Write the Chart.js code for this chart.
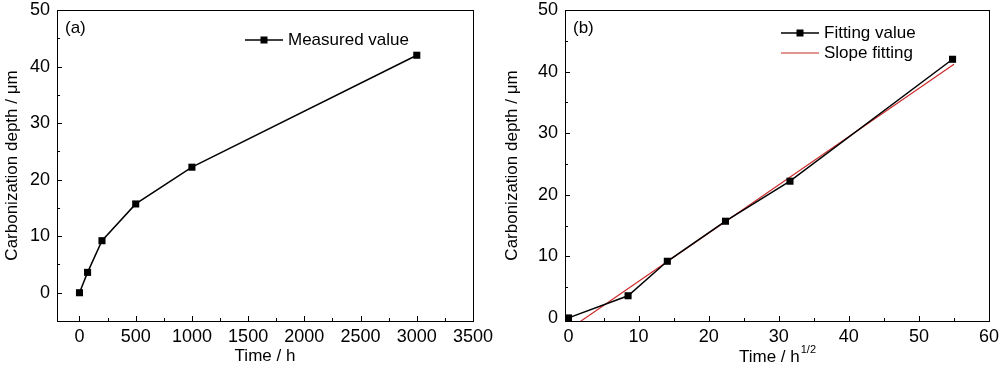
<!DOCTYPE html>
<html>
<head>
<meta charset="utf-8">
<script src="https://cdn.jsdelivr.net/npm/chart.js@4/dist/chart.umd.min.js"></script>
<style>
  body { margin: 0; background: #fff; width: 1000px; height: 367px; overflow: hidden; position: relative; }
  .box { position: absolute; top: 0; width: 500px; height: 367px; }
</style>
</head>
<body>
<div class="box" style="left:0"><canvas id="chartA"></canvas></div>
<div class="box" style="left:500px"><canvas id="chartB"></canvas></div>
<script>
// data
const timeH = [0, 72, 200, 500, 1000, 3000];
const depth = [0, 3.6, 9.2, 15.7, 22.2, 42.0];
const sqrtTime = [0, 8.5, 14.1, 22.4, 31.6, 54.8];
const slopeX = [0, 55];
const slopeY = [-1.9, 41.2];

// tick labels
const yTickLabels = [0, 10, 20, 30, 40, 50];
const xTickLabelsA = [0, 500, 1000, 1500, 2000, 2500, 3000, 3500];
const xTickLabelsB = [0, 10, 20, 30, 40, 50, 60];

const FONT = '"Liberation Sans", Arial, sans-serif';
Chart.defaults.font.family = FONT;
Chart.defaults.color = '#000';

const pts = (xs, ys) => xs.map((x, i) => ({ x: x, y: ys[i] }));

// major ticks plus one minor tick between each pair
function withMinor(major) {
  const out = [];
  major.forEach((v, i) => {
    out.push(v);
    if (i < major.length - 1) out.push((v + major[i + 1]) / 2);
  });
  return out;
}

// box round the plot, inward ticks, panel tag, legend
const framePlugin = {
  id: 'frame',
  afterDraw(chart, args, opts) {
    const ctx = chart.ctx;
    const a = chart.chartArea;
    ctx.save();
    ctx.strokeStyle = '#000';
    ctx.lineWidth = 1;
    ctx.strokeRect(Math.round(a.left) + 0.5, Math.round(a.top) + 0.5,
      Math.round(a.right - a.left), Math.round(a.bottom - a.top));

    const xs = chart.scales.x, ys = chart.scales.y;
    ctx.beginPath();
    xs.ticks.forEach(t => {
      const px = Math.round(xs.getPixelForValue(t.value)) + 0.5;
      const len = opts.xMajor.includes(t.value) ? 5 : 3;
      ctx.moveTo(px, a.bottom);
      ctx.lineTo(px, a.bottom - len);
    });
    ys.ticks.forEach(t => {
      const py = Math.round(ys.getPixelForValue(t.value)) + 0.5;
      const len = yTickLabels.includes(t.value) ? 5 : 3;
      ctx.moveTo(a.left, py);
      ctx.lineTo(a.left + len, py);
    });
    ctx.stroke();

    ctx.fillStyle = '#000';
    ctx.font = '17px ' + FONT;
    ctx.textBaseline = 'middle';
    ctx.textAlign = 'left';
    ctx.fillText(opts.tag, a.left + 8, 28);

    // legend
    opts.legend.forEach(item => {
      const ds = chart.data.datasets[item.index];
      ctx.strokeStyle = ds.borderColor;
      ctx.lineWidth = ds.borderWidth;
      ctx.beginPath();
      ctx.moveTo(item.x, item.y);
      ctx.lineTo(item.x + 38, item.y);
      ctx.stroke();
      if (ds.pointRadius > 0) {
        ctx.fillStyle = ds.pointBackgroundColor;
        ctx.fillRect(item.x + 19 - 3.5, item.y - 3.5, 7, 7);
      }
      ctx.fillStyle = '#000';
      ctx.fillText(ds.label, item.x + 43, item.y);
    });

    // x title with superscript
    if (opts.xTitle) {
      ctx.font = '17px ' + FONT;
      const main = opts.xTitle[0], sup = opts.xTitle[1];
      const w1 = ctx.measureText(main).width;
      ctx.font = '11px ' + FONT;
      const w2 = ctx.measureText(sup).width;
      const x0 = (a.left + a.right) / 2 - (w1 + w2) / 2;
      ctx.font = '17px ' + FONT;
      ctx.fillText(main, x0, 357);
      ctx.font = '11px ' + FONT;
      ctx.fillText(sup, x0 + w1 + 1, 350);
    }
    ctx.restore();
  }
};

function makeOptions(cfg) {
  const xTicks = withMinor(cfg.xMajor);
  const yTicks = withMinor(yTickLabels);
  return {
    responsive: true,
    maintainAspectRatio: false,
    animation: false,
    layout: { padding: { left: 0, right: cfg.padRight, top: 10, bottom: 0 } },
    plugins: {
      legend: { display: false },
      tooltip: { enabled: false },
      frame: { tag: cfg.tag, legend: cfg.legend, xMajor: cfg.xMajor, xTitle: cfg.xTitleSup }
    },
    scales: {
      x: {
        type: 'linear',
        min: cfg.xMin, max: cfg.xMax,
        grid: { display: false, drawTicks: false },
        border: { display: false },
        afterBuildTicks(s) { s.ticks = xTicks.map(v => ({ value: v })); },
        ticks: {
          autoSkip: false,
          maxRotation: 0,
          padding: 5,
          font: { size: 18 },
          callback: v => cfg.xMajor.includes(v) ? String(v) : ''
        },
        title: {
          display: !!cfg.xTitle,
          text: cfg.xTitle || '',
          font: { size: 17 },
          padding: { top: 0, bottom: 0 }
        },
        afterFit(s) { s.height = 46; s.paddingLeft = 0; s.paddingRight = 0; }
      },
      y: {
        type: 'linear',
        min: cfg.yMin, max: 50,
        grid: { display: false, drawTicks: false },
        border: { display: false },
        afterBuildTicks(s) { s.ticks = yTicks.map(v => ({ value: v })); },
        ticks: {
          autoSkip: false,
          padding: 7,
          font: { size: 18 },
          callback: v => yTickLabels.includes(v) ? String(v) : ''
        },
        title: {
          display: true,
          text: 'Carbonization depth / μm',
          font: { size: 17 },
          padding: { top: 2, bottom: 0 }
        },
        afterFit(s) { s.width = cfg.yWidth; s.paddingTop = 0; s.paddingBottom = 0; }
      }
    }
  };
}

new Chart(document.getElementById('chartA'), {
  type: 'scatter',
  data: {
    datasets: [{
      label: 'Measured value',
      data: pts(timeH, depth),
      showLine: true,
      borderColor: '#000',
      borderWidth: 1.5,
      pointStyle: 'rect',
      pointRadius: 5,
      pointBackgroundColor: '#000',
      pointBorderWidth: 0
    }]
  },
  options: makeOptions({
    tag: '(a)', padRight: 27, yWidth: 57,
    xMin: -200, xMax: 3500, xMajor: xTickLabelsA,
    yMin: -5, xTitle: 'Time / h',
    legend: [{ index: 0, x: 245, y: 40 }]
  }),
  plugins: [framePlugin]
});

new Chart(document.getElementById('chartB'), {
  type: 'scatter',
  data: {
    datasets: [{
      label: 'Fitting value',
      data: pts(sqrtTime, depth),
      showLine: true,
      borderColor: '#000',
      borderWidth: 1.5,
      pointStyle: 'rect',
      pointRadius: 5,
      pointBackgroundColor: '#000',
      pointBorderWidth: 0
    }, {
      label: 'Slope fitting',
      data: pts(slopeX, slopeY),
      showLine: true,
      borderColor: '#cc2a2a',
      borderWidth: 1.2,
      pointRadius: 0
    }]
  },
  options: makeOptions({
    tag: '(b)', padRight: 11, yWidth: 65,
    xMin: -0.5, xMax: 60, xMajor: xTickLabelsB,
    yMin: -0.5, xTitle: '', xTitleSup: ['Time / h', '1/2'],
    legend: [{ index: 0, x: 281, y: 33 }, { index: 1, x: 281, y: 53 }]
  }),
  plugins: [framePlugin]
});
</script>
</body>
</html>
